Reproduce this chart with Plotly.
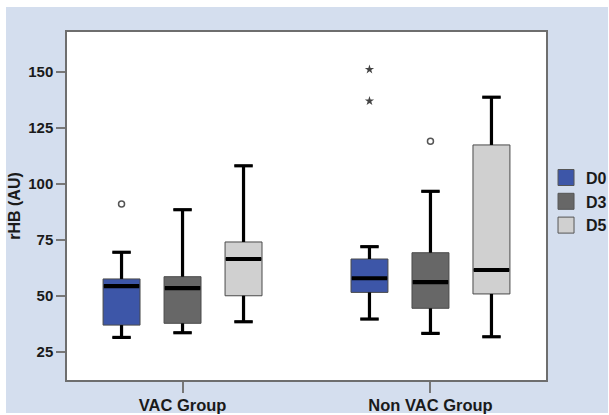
import plotly.graph_objects as go

# ---- data ----
groups = ["VAC Group", "Non VAC Group"]
series = ["D0", "D3", "D5"]
colors = ["#3d56a8", "#676767", "#d0d0d0"]

# per series: values for [VAC, Non VAC]
q1 = {"D0": [36.9, 51.5], "D3": [37.7, 44.4], "D5": [50.0, 50.8]}
med = {"D0": [54.3, 57.8], "D3": [53.4, 56.1], "D5": [66.4, 61.5]}
q3 = {"D0": [57.5, 66.4], "D3": [58.5, 69.2], "D5": [74.0, 117.3]}
lo = {"D0": [31.4, 39.6], "D3": [33.5, 33.2], "D5": [38.4, 31.7]}
hi = {"D0": [69.4, 71.9], "D3": [88.4, 96.6], "D5": [108.0, 138.6]}

# outliers (circles) and extremes (stars): (group index, series, value)
outlier_group = [0, 1]
outlier_series = ["D0", "D3"]
outlier_values = [90.9, 119.0]
extreme_group = [1, 1]
extreme_series = ["D0", "D0"]
extreme_values = [151.0, 136.9]

yticks = [25, 50, 75, 100, 125, 150]

# ---- layout parameters ----
offsets = {"D0": -0.246, "D3": 0.0, "D5": 0.246}
bw = 0.149
font_family = "Liberation Sans, Arial, sans-serif"
txt = "#1a1a1a"

fig = go.Figure()

wx, wy = [], []  # whiskers
mx, my = [], []  # medians
for s, c in zip(series, colors):
    xs = [g + offsets[s] for g in range(len(groups))]
    fig.add_trace(go.Box(
        x=xs, q1=q1[s], median=med[s], q3=q3[s],
        lowerfence=lo[s], upperfence=hi[s],
        width=bw, fillcolor=c, line=dict(color="#4a4a4a", width=1),
        whiskerwidth=0.5, boxpoints=False, showlegend=False,
        hoverinfo="skip",
    ))
    for i, x in enumerate(xs):
        # upper whisker + cap
        wx += [x, x, None, x - bw / 4, x + bw / 4, None]
        wy += [q3[s][i], hi[s][i], None, hi[s][i], hi[s][i], None]
        # lower whisker + cap
        wx += [x, x, None, x - bw / 4, x + bw / 4, None]
        wy += [q1[s][i], lo[s][i], None, lo[s][i], lo[s][i], None]
        mx += [x - bw / 2 + 0.003, x + bw / 2 - 0.003, None]
        my += [med[s][i], med[s][i], None]

fig.add_trace(go.Scatter(x=wx, y=wy, mode="lines", line=dict(color="black", width=3.2),
                         showlegend=False, hoverinfo="skip"))
fig.add_trace(go.Scatter(x=mx, y=my, mode="lines", line=dict(color="black", width=4.2),
                         showlegend=False, hoverinfo="skip"))

fig.add_trace(go.Scatter(
    x=[g + offsets[s] for g, s in zip(outlier_group, outlier_series)], y=outlier_values,
    mode="markers", marker=dict(symbol="circle-open", size=6, color="#555555", line=dict(width=1.5)),
    showlegend=False, hoverinfo="skip"))
fig.add_trace(go.Scatter(
    x=[g + offsets[s] for g, s in zip(extreme_group, extreme_series)], y=extreme_values,
    mode="markers", marker=dict(symbol="star", size=7, color="#444444"),
    showlegend=False, hoverinfo="skip"))

# legend entries
for s, c in zip(series, colors):
    fig.add_trace(go.Scatter(
        x=[None], y=[None], mode="markers", name=s,
        marker=dict(symbol="square", size=16, color=c, line=dict(color="#555555", width=1)),
    ))

bg = "#d4deee"
fig.update_layout(
    width=609, height=415,
    margin=dict(l=67, r=63, t=32, b=35, autoexpand=False),
    paper_bgcolor="white", plot_bgcolor="white",
    boxmode="overlay",
    font=dict(family=font_family, color=txt),
    shapes=[
        dict(type="rect", xref="paper", yref="paper", x0=-0.1273, x1=1.1294, y0=-0.0948, y1=1.0718,
             fillcolor=bg, line=dict(width=0), layer="below"),
        dict(type="rect", xref="paper", yref="paper", x0=0, x1=1, y0=0, y1=1,
             fillcolor="white", line=dict(width=0), layer="below"),
    ],
    legend=dict(xref="container", yref="container", x=0.8966, xanchor="left", y=0.613, yanchor="top",
                bgcolor="rgba(0,0,0,0)", font=dict(size=16, weight="bold", color=txt),
                itemwidth=30, tracegroupgap=0),
    showlegend=True,
)
fig.update_xaxes(
    range=[-0.466, 1.466], tickvals=list(range(len(groups))), ticktext=groups,
    ticks="outside", ticklen=11, tickwidth=1.5, tickcolor="#777777",
    showline=True, mirror=True, linecolor="#6e6e6e", linewidth=1.5,
    showgrid=False, zeroline=False, automargin=False, ticklabelstandoff=-2,
    tickfont=dict(size=16.5, weight="bold", color=txt),
)
fig.update_yaxes(
    range=[12.4, 167.7], tickvals=yticks,
    ticks="outside", ticklen=9, tickwidth=1.5, tickcolor="#777777",
    showline=True, mirror=True, linecolor="#6e6e6e", linewidth=1.5,
    showgrid=False, zeroline=False, automargin=False,
    tickfont=dict(size=15, weight="bold", color=txt),
    title=dict(text="rHB (AU)", font=dict(size=16, weight="bold", color=txt), standoff=4),
)

fig.write_html("out.html", config={"displayModeBar": False},
               post_script="document.body.style.margin='0';")
